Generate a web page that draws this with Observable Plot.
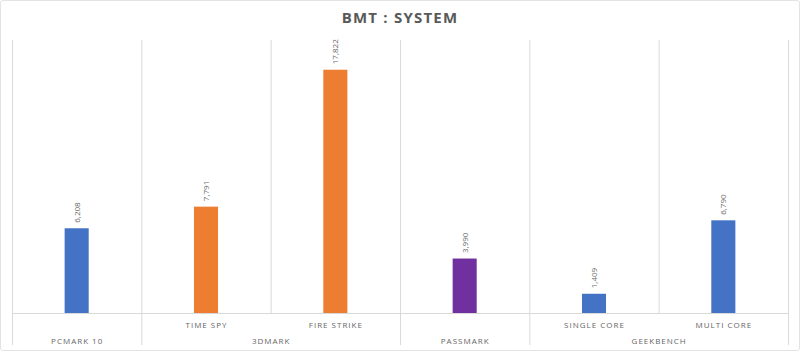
<!DOCTYPE html>
<html>
<head>
<meta charset="utf-8">
<script src="https://cdn.jsdelivr.net/npm/d3@7"></script>
<script src="https://cdn.jsdelivr.net/npm/@observablehq/plot@0.6"></script>
<style>
  html, body { margin: 0; padding: 0; background: #fff; }
  #wrap { position: relative; width: 800px; height: 351px; overflow: hidden; font-family: "Open Sans", "Noto Sans", sans-serif; }
  #frame { position: absolute; left: 0; top: 0; width: 798px; height: 349px; border: 1px solid #e3e3e3; border-radius: 3px; pointer-events: none; }
  #title { height: 40px; line-height: 34px; text-align: center; font-size: 15px; font-weight: 700; color: #595959; letter-spacing: 1.2px; }
  #chart svg { display: block; }
</style>
</head>
<body>
<div id="wrap">
  <div id="title">BMT : SYSTEM</div>
  <div id="chart"></div>
  <div id="frame"></div>
</div>
<script>
const groups = ["PCMARK 10", "3DMARK", "3DMARK", "PASSMARK", "GEEKBENCH", "GEEKBENCH"];
const subLabels = ["", "TIME SPY", "FIRE STRIKE", "", "SINGLE CORE", "MULTI CORE"];
const scores = [6208, 7791, 17822, 3990, 1409, 6790];
const groupNames = ["PCMARK 10", "3DMARK", "PASSMARK", "GEEKBENCH"];
const groupColors = ["#4472C4", "#ED7D31", "#7030A0", "#4472C4"];

const n = scores.length;
const data = scores.map((v, i) => ({i, group: groups[i], sub: subLabels[i], score: v}));
const groupData = groupNames.map(g => {
  const idx = data.filter(d => d.group === g).map(d => d.i);
  return {group: g, center: d3.mean(idx)};
});
const fullBounds = [-0.5, n - 0.5];
const innerBounds = [];
for (let i = 0; i < n - 1; i++) {
  if (groups[i] !== groups[i + 1]) fullBounds.push(i + 0.5);
  else innerBounds.push(i + 0.5);
}
const hw = 0.093;
const fmt = d3.format(",");

const plot = Plot.plot({
  width: 800,
  height: 311,
  marginLeft: 12,
  marginRight: 12,
  marginTop: 0,
  marginBottom: 38,
  x: {domain: [-0.5, n - 0.5], axis: null},
  y: {domain: [0, 20000], axis: null},
  color: {domain: groupNames, range: groupColors},
  style: {fontFamily: "'Open Sans', 'Noto Sans', sans-serif", color: "#595959", background: "transparent", overflow: "visible"},
  marks: [
    Plot.ruleX(fullBounds, {x: d => d, insetBottom: -32, stroke: "#d9d9d9"}),
    Plot.ruleX(innerBounds, {x: d => d, stroke: "#d9d9d9"}),
    Plot.rectY(data, {x1: d => d.i - hw, x2: d => d.i + hw, y: "score", fill: "group"}),
    Plot.ruleY([0], {stroke: "#d9d9d9"}),
    Plot.text(data, {x: "i", y: "score", text: d => fmt(d.score), rotate: -90, textAnchor: "start", dy: -6, fontSize: 8, fill: "#666666"}),
    Plot.text(data.filter(d => d.sub), {x: "i", y: 0, text: "sub", dy: 12, fontSize: 8, fill: "#666666"}),
    Plot.text(groupData, {x: "center", y: 0, text: "group", dy: 28, fontSize: 8, fill: "#666666"})
  ]
});
const spaced = new Set([...groupNames, ...subLabels.filter(s => s)]);
plot.querySelectorAll("text").forEach(t => {
  if (spaced.has(t.textContent)) {
    t.setAttribute("letter-spacing", "1");
    t.style.letterSpacing = "1px";
  }
});
document.getElementById("chart").appendChild(plot);
</script>
</body>
</html>
